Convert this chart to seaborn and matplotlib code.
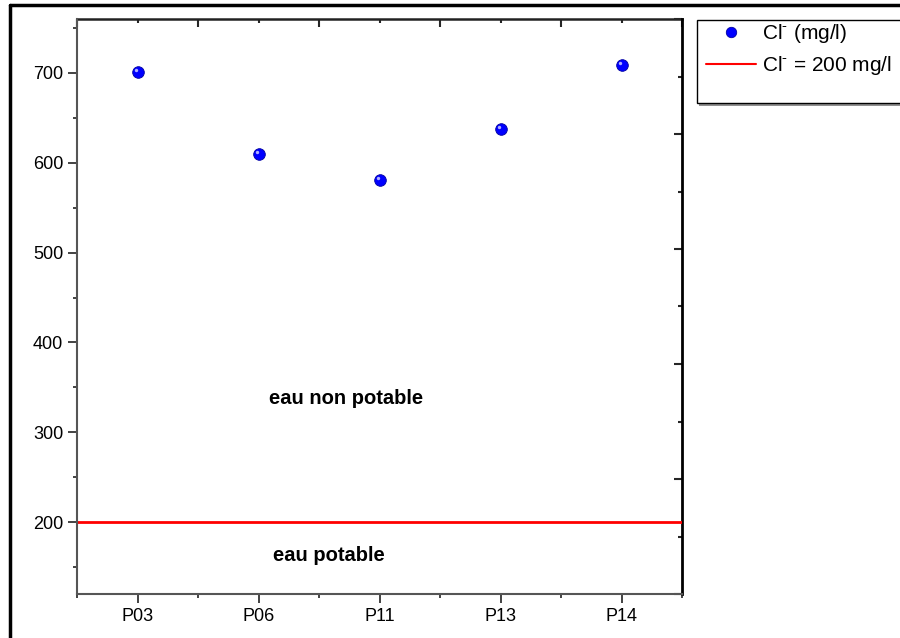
import numpy as np
import seaborn as sns
import matplotlib.pyplot as plt
from matplotlib.lines import Line2D
from matplotlib.patches import Rectangle
from matplotlib.ticker import FixedLocator, MultipleLocator
from matplotlib.transforms import ScaledTranslation

# data
wells = ['P03', 'P06', 'P11', 'P13', 'P14']
chloride = [701, 610, 581, 638, 709]
limit = 200

sns.set_style('ticks')
plt.rcParams['font.family'] = ['Liberation Sans', 'DejaVu Sans']
plt.rcParams['mathtext.fontset'] = 'custom'
plt.rcParams['mathtext.rm'] = 'Liberation Sans'
plt.rcParams['text.color'] = 'black'

W, H = 900, 638
fig = plt.figure(figsize=(W / 100, H / 100), dpi=100)
ax = fig.add_axes([77 / W, 1 - 594 / H, 605 / W, 575 / H])

# points (blue spheres) + small highlight
sns.scatterplot(x=wells, y=chloride, ax=ax, color='#0000ff', s=70,
                edgecolor='#0000a0', linewidth=0.6, zorder=3, legend=False)
hl = ax.transData + ScaledTranslation(-1.4 / 72, 1.4 / 72, fig.dpi_scale_trans)
ax.scatter(range(len(wells)), chloride, s=6, color='#b0b0ff', linewidth=0,
           transform=hl, zorder=4)

ax.axhline(limit, color='#ff0000', lw=2, zorder=2)

ax.text(1.72, 338, 'eau non potable', ha='center', va='center',
        fontsize=14.5, fontweight='bold', color='black')
ax.text(1.58, 163, 'eau potable', ha='center', va='center',
        fontsize=14.5, fontweight='bold', color='black')

ax.set_xlim(-0.5, 4.5)
ax.set_ylim(120, 760)
ax.set_xlabel('')
ax.set_ylabel('')

ax.set_xticks(range(len(wells)))
ax.set_xticklabels(wells)
ax.xaxis.set_minor_locator(FixedLocator(np.arange(-0.5, 5, 1)))
ax.set_yticks(np.arange(200, 701, 100))
ax.yaxis.set_minor_locator(FixedLocator(np.arange(150, 760, 100)))
ax.tick_params(which='major', direction='out', length=6.5, width=1.2,
               labelsize=13, pad=3.5, color='#222222', labelcolor='black')
ax.tick_params(which='minor', direction='out', length=3, width=1.2,
               color='#222222')

for s in ['left', 'bottom']:
    ax.spines[s].set_color('#555555')
    ax.spines[s].set_linewidth(1.5)
for s in ['top', 'right']:
    ax.spines[s].set_visible(False)

# top axis: inward ticks, majors between wells
top = ax.secondary_xaxis('top')
top.xaxis.set_major_locator(FixedLocator(np.arange(-0.5, 5, 1)))
top.xaxis.set_minor_locator(FixedLocator(range(len(wells))))
top.tick_params(which='major', direction='in', length=6, width=1.5, labeltop=False)
top.tick_params(which='minor', direction='in', length=3, width=1.5)
top.spines['top'].set_linewidth(1.8)
top.spines['top'].set_color('#222222')

# right axis: its own evenly spaced inward ticks
right = ax.secondary_yaxis('right', functions=(lambda y: (y - 120) / 640,
                                               lambda f: f * 640 + 120))
right.yaxis.set_major_locator(MultipleLocator(0.2))
right.yaxis.set_minor_locator(MultipleLocator(0.1))
right.tick_params(which='major', direction='in', length=6, width=1.5, labelright=False)
right.tick_params(which='minor', direction='in', length=3, width=1.5)
right.spines['right'].set_linewidth(2)
right.spines['right'].set_color('black')

# legend box drawn by hand (Origin-style with shadow and blank space)
fig.add_artist(Rectangle((699 / W, 1 - 106 / H), 220 / W, 84 / H,
                         transform=fig.transFigure, facecolor='#909090',
                         edgecolor='none', zorder=4))
fig.add_artist(Rectangle((697 / W, 1 - 103 / H), 220 / W, 83 / H,
                         transform=fig.transFigure, facecolor='white',
                         edgecolor='black', lw=1, zorder=5))

handles = [
    Line2D([], [], ls='none', marker='o', ms=7.5, color='#0000ff',
           markeredgecolor='#0000a0', markeredgewidth=0.6),
    Line2D([], [], color='#ff0000', lw=1.5),
]
labels = ['Cl$^{\\text{-}}$ (mg/l)', 'Cl$^{\\text{-}}$ = 200 mg/l']
leg = fig.legend(handles, labels, loc='upper left',
                 bbox_to_anchor=(706 / W, 1 - 22 / H),
                 fontsize=15, frameon=False, handlelength=2.4,
                 handletextpad=0.3, borderpad=0, labelspacing=0.45,
                 borderaxespad=0)
leg.set_zorder(6)

# outer page frame
fig.add_artist(Line2D([10 / W, 1.0], [1 - 5 / H, 1 - 5 / H],
                      transform=fig.transFigure, color='black', lw=2.5))
fig.add_artist(Line2D([10 / W, 10 / W], [0, 1 - 5 / H],
                      transform=fig.transFigure, color='black', lw=2.5))

fig.savefig('out.png', dpi=100)
